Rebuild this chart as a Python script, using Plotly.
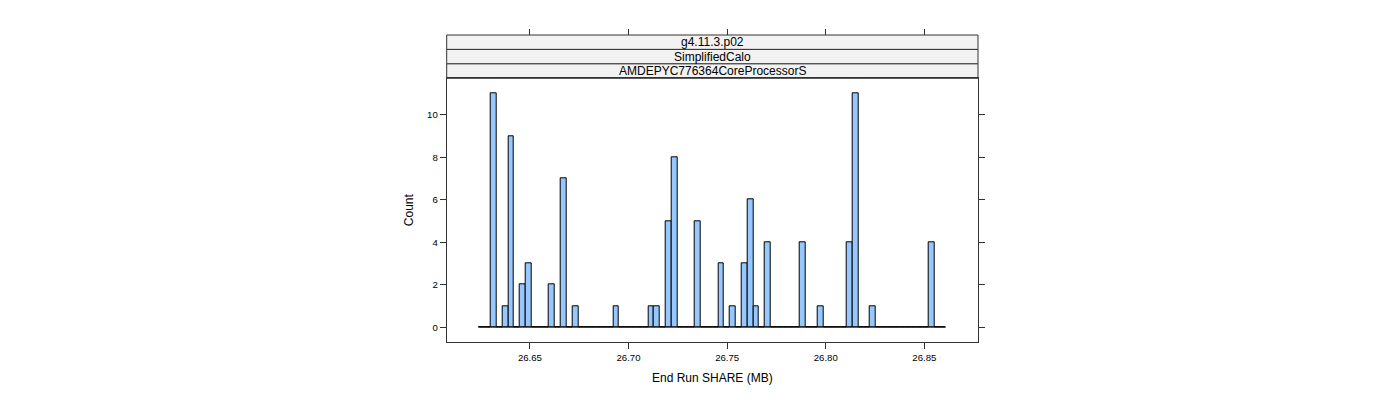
import numpy as np
import plotly.graph_objects as go

# histogram bins (80 equal-width bins)
first_break = 26.6242
bin_width = 0.002959
counts = [0, 0, 11, 0, 1, 9, 0, 2, 3, 0,
          0, 0, 2, 0, 7, 0, 1, 0, 0, 0,
          0, 0, 0, 1, 0, 0, 0, 0, 0, 1,
          1, 0, 5, 8, 0, 0, 0, 5, 0, 0,
          0, 3, 0, 1, 0, 3, 6, 1, 0, 4,
          0, 0, 0, 0, 0, 4, 0, 0, 1, 0,
          0, 0, 0, 4, 11, 0, 0, 1, 0, 0,
          0, 0, 0, 0, 0, 0, 0, 4, 0, 0]
strip_labels = ["g4.11.3.p02", "SimplifiedCalo", "AMDEPYC776364CoreProcessorS"]
x_ticks = [26.65, 26.70, 26.75, 26.80, 26.85]
y_ticks = [0, 2, 4, 6, 8, 10]

breaks = first_break + bin_width * np.arange(len(counts) + 1)
mids = (breaks[:-1] + breaks[1:]) / 2

# panel placement (paper coords); page body adds an 8px offset
W, H, off = 1400, 400, 8
px0, px1 = (446.7 - off) / W, (978 - off) / W
py0, py1 = 1 - (342 - off) / H, 1 - (78.3 - off) / H
strip_top = 1 - (35 - off) / H
axis_col = "#333333"
font = "Liberation Sans, Arial, sans-serif"

fig = go.Figure()

# zero line through the empty bins
fig.add_trace(go.Scatter(x=[breaks[0], breaks[-1]], y=[0, 0], mode="lines",
                         line=dict(color="black", width=0.8), hoverinfo="skip"))

fig.add_trace(go.Bar(x=mids, y=counts, width=bin_width,
                     marker=dict(color="#96C8FF", line=dict(color="black", width=1))))

# strips
h = (strip_top - py1) / len(strip_labels)
for i, lab in enumerate(strip_labels):
    top = strip_top - i * h
    fig.add_shape(type="rect", xref="paper", yref="paper",
                  x0=px0, x1=px1, y0=top - h, y1=top,
                  fillcolor="#f2f2f2", line=dict(color=axis_col, width=1), layer="below")
    fig.add_annotation(x=(px0 + px1) / 2, y=top - h / 2, xref="paper", yref="paper",
                       xanchor="center", yanchor="middle",
                       text=lab, showarrow=False, font=dict(size=12, color="black", family=font))

fig.update_layout(
    width=W, height=H,
    margin=dict(l=0, r=0, t=0, b=0),
    plot_bgcolor="white", paper_bgcolor="white",
    showlegend=False, bargap=0,
    font=dict(family=font, color="black"),
    xaxis=dict(domain=[px0, px1], range=[26.6078, 26.8772],
               tickvals=x_ticks, ticktext=[f"{t:.2f}" for t in x_ticks],
               ticks="outside", ticklen=6, tickcolor=axis_col,
               showline=True, linecolor=axis_col, mirror=True,
               showgrid=False, zeroline=False, tickfont=dict(size=9.6),
               title=dict(text="End Run SHARE (MB)", font=dict(size=12), standoff=12)),
    xaxis2=dict(overlaying="x", matches="x", anchor="free", position=strip_top, side="top",
                tickvals=x_ticks, ticks="outside", ticklen=6, tickcolor=axis_col,
                showticklabels=False, showline=False, showgrid=False, zeroline=False),
    yaxis=dict(domain=[py0, py1], range=[-0.7, 11.72],
               tickvals=y_ticks, ticks="outside", ticklen=6, tickcolor=axis_col,
               showline=True, linecolor=axis_col, mirror="ticks",
               showgrid=False, zeroline=False, tickfont=dict(size=9.6),
               title=dict(text="Count", font=dict(size=12), standoff=10)),
)

# invisible point so the top tick axis is drawn
fig.add_trace(go.Scatter(x=[x_ticks[0]], y=[0], xaxis="x2", mode="markers",
                         marker=dict(opacity=0), hoverinfo="skip"))

fig.write_html("out.html")
